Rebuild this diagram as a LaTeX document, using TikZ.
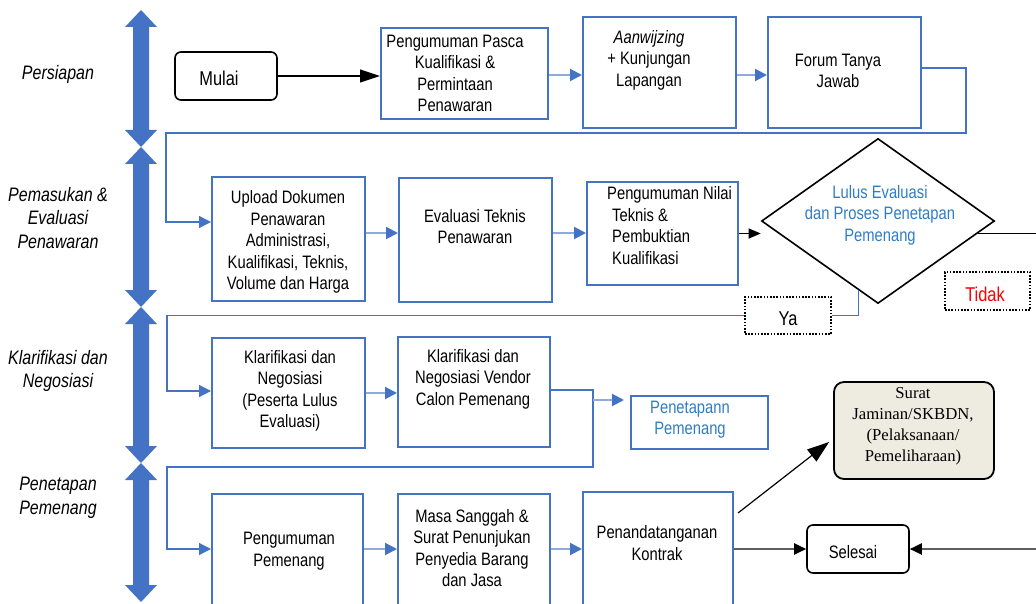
\documentclass[tikz,border=0pt]{standalone}
\usepackage{fontspec}
\setmainfont{Liberation Sans}[FakeStretch=0.82]
\newfontfamily\suratfont{Liberation Serif}
\usetikzlibrary{positioning,arrows.meta,shapes.geometric}

\definecolor{boxblue}{RGB}{68,114,196}
\definecolor{lineblue}{RGB}{143,170,220}
\definecolor{textblue}{RGB}{46,125,195}
\definecolor{suratfill}{RGB}{238,236,225}
\definecolor{darkline}{RGB}{95,95,95}

\begin{document}
\begin{tikzpicture}[x=1pt, y=-1pt,
    box/.style={draw=boxblue, line width=2pt, minimum width=153pt, inner sep=0pt},
    endbox/.style={draw=black, line width=1.6pt, rounded corners=6pt, minimum width=102pt, minimum height=48pt, inner sep=0pt},
    tagbox/.style={draw=black, line width=1.6pt, dash pattern=on 1.6pt off 1.6pt, inner sep=0pt},
    txt/.style={align=center, font=\fontsize{18}{21.5}\selectfont, inner sep=0pt},
    phase/.style={align=center, font=\fontsize{19.5}{23.5}\selectfont\itshape, inner sep=0pt},
    blueflow/.style={draw=lineblue, line width=2pt, -{Triangle[length=12pt,width=12pt,color=boxblue]}},
    backline/.style={draw=boxblue, line width=1.2pt, -{Triangle[length=12pt,width=12pt]}},
    blackarrow/.style={draw=black, line width=1.2pt, -{Triangle[length=20pt,width=13pt]}},
    grayarrow/.style={draw=darkline, line width=2pt, -{Triangle[length=12pt,width=11pt,color=black]}},
    phasearrow/.style={fill=boxblue}
]
\useasboundingbox (0,0) rectangle (1036,604);
\clip (0,0) rectangle (1036,604);

% phase arrows
\foreach \a/\b in {10/147,147/307,307/463,463/602}
  \fill[phasearrow] (141,\a) -- (157,\a+17) -- (149,\a+17) -- (149,\b-17) -- (157,\b-17)
    -- (141,\b) -- (125,\b-17) -- (133,\b-17) -- (133,\a+17) -- (125,\a+17) -- cycle;

% phase labels
\node[phase] (ph1) at (58,74) {Persiapan};
\node[phase] (ph2) at (58,218) {Pemasukan \&\\Evaluasi\\Penawaran};
\node[phase] (ph3) at (58,371) {Klarifikasi dan\\Negosiasi};
\node[phase] (ph4) at (58,498) {Penetapan\\Pemenang};

% row 1
\node[endbox] (mulai) at (226,76) {};
\node[txt, font=\fontsize{20}{24}\selectfont] (mulait) at (219,78) {Mulai};
\node[box, minimum width=167pt, minimum height=91pt] (pasca) at (464.5,73.5) {};
\node[txt] (pascat) at (455,73.5) {Pengumuman Pasca\\Kualifikasi \&\\Permintaan\\Penawaran};
\node[box, minimum height=111pt] (aan) at (659.5,72.5) {};
\node[txt] (aant) at (649,60) {\textit{Aanwijzing}\\+ Kunjungan\\Lapangan};
\node[box, minimum height=111pt] (forum) at (844.5,72.5) {};
\node[txt] (forumt) at (838,71) {Forum Tanya\\Jawab};

% row 2
\node[box, minimum height=124pt] (upload) at (288.5,239) {};
\node[txt] (uploadt) at (288,242) {Upload Dokumen\\Penawaran\\Administrasi,\\Kualifikasi, Teknis,\\Volume dan Harga};
\node[box, minimum height=124pt] (eval) at (475.5,240) {};
\node[txt] (evalt) at (475,226.5) {Evaluasi Teknis\\Penawaran};
\node[box, minimum width=151pt, minimum height=103pt] (nilai) at (662.5,233.5) {};
\node[txt, align=left, anchor=west] (nilait) at (607,225.5) {Pengumuman Nilai\\\hspace*{5pt}Teknis \&\\\hspace*{5pt}Pembuktian\\\hspace*{5pt}Kualifikasi};
\node[draw, diamond, line width=1.6pt, minimum width=233pt, minimum height=165pt, inner sep=0pt] (dia) at (878,221) {};
\node[txt, text=textblue] (diat) at (880,215) {Lulus Evaluasi\\dan Proses Penetapan\\Pemenang};
\node[tagbox, minimum width=86pt, minimum height=37pt] (ya) at (788,315.5) {};
\node[txt, font=\fontsize{20}{24}\selectfont] (yat) at (788,319) {Ya};
\node[tagbox, minimum width=85pt, minimum height=38pt] (tidak) at (987.5,291) {};
\node[txt, font=\fontsize{20}{24}\selectfont, text=red] (tidakt) at (985,294) {Tidak};

% row 3
\node[box, minimum height=110pt] (klar) at (288.5,393) {};
\node[txt] (klart) at (290,391) {Klarifikasi dan\\Negosiasi\\(Peserta Lulus\\Evaluasi)};
\node[box, minimum width=152pt, minimum height=110pt] (vendor) at (474,392) {};
\node[txt] (vendort) at (473,379) {Klarifikasi dan\\Negosiasi Vendor\\Calon Pemenang};
\node[box, minimum width=137pt, minimum height=53pt] (pen) at (699.5,422.5) {};
\node[txt, text=textblue] (pent) at (690,419.5) {Penetapann\\Pemenang};
\node[draw=black, fill=suratfill, line width=1.8pt, rounded corners=10pt, minimum width=160pt, minimum height=97pt] (surat) at (914,430.5) {};
\node[txt, font=\suratfont\fontsize{16.7}{21}\selectfont] (suratt) at (913,426.5) {Surat\\Jaminan/SKBDN,\\(Pelaksanaan/\\Pemeliharaan)};

% row 4
\node[box, minimum width=151pt, minimum height=120pt] (ppem) at (287.5,554) {};
\node[txt] (ppemt) at (289,551) {Pengumuman\\Pemenang};
\node[box, minimum width=152pt, minimum height=120pt] (masa) at (474,554) {};
\node[txt] (masat) at (472,548) {Masa Sanggah \&\\Surat Penunjukan\\Penyedia Barang\\dan Jasa};
\node[box, minimum width=150pt, minimum height=122pt] (penan) at (658,553) {};
\node[txt] (penant) at (657,543) {Penandatanganan\\Kontrak};
\node[endbox] (selesai) at (858,549) {};
\node[txt] (selesait) at (853,552) {Selesai};

% connectors
\draw[blackarrow] (mulai.east) -- (mulai.east -| pasca.west);
\draw[blueflow] ([yshift=-1.5]pasca.east) -- ([yshift=-1.5]pasca.east -| aan.west);
\draw[blueflow] ([yshift=-2.5]aan.east) -- ([yshift=-2.5]aan.east -| forum.west);
\draw[backline] ([yshift=4.5]forum.east) -- ++(44,0) |- (166,133) |- ([yshift=17]upload.west);

\draw[blueflow] ([yshift=6]upload.east) -- ([yshift=6]upload.east -| eval.west);
\draw[blueflow] ([yshift=7]eval.east) -- ([yshift=7]eval.east -| nilai.west);
\draw[blackarrow, -{Triangle[length=12pt,width=10pt]}] (nilai.east) -- (nilai.east -| dia.west);
\draw[backline, -] (dia.-106) |- (ya.east);
\draw[backline] (ya.west) -| (167,391) -- ([yshift=2]klar.west);
\coordinate (rightout) at (1040,234);
\draw[draw=black, line width=1.2pt] (dia.-7) -- (dia.-7 -| rightout);

\draw[blueflow] (klar.east) -- (klar.east -| vendor.west);
\draw[backline] ([yshift=2]vendor.east) -| (593,467) -- (167,467) |- ([yshift=5]ppem.west);
\coordinate (branch) at (593,400);
\draw[blueflow, shorten >=6pt] (branch) -- (branch -| pen.west);

\draw[blueflow] ([yshift=5]ppem.east) -- ([yshift=5]ppem.east -| masa.west);
\draw[blueflow] ([yshift=5]masa.east) -- ([yshift=5]masa.east -| penan.west);
\draw[blackarrow, -{Triangle[length=22pt,width=15pt]}] ([xshift=4,yshift=40]penan.east) -- ([xshift=-4,yshift=-11.5]surat.west);
\draw[grayarrow] ([yshift=4]penan.east) -- (selesai.west);
\coordinate (rightin) at (1040,549);
\draw[grayarrow] (rightin) -- (selesai.east);

\end{tikzpicture}
\end{document}
